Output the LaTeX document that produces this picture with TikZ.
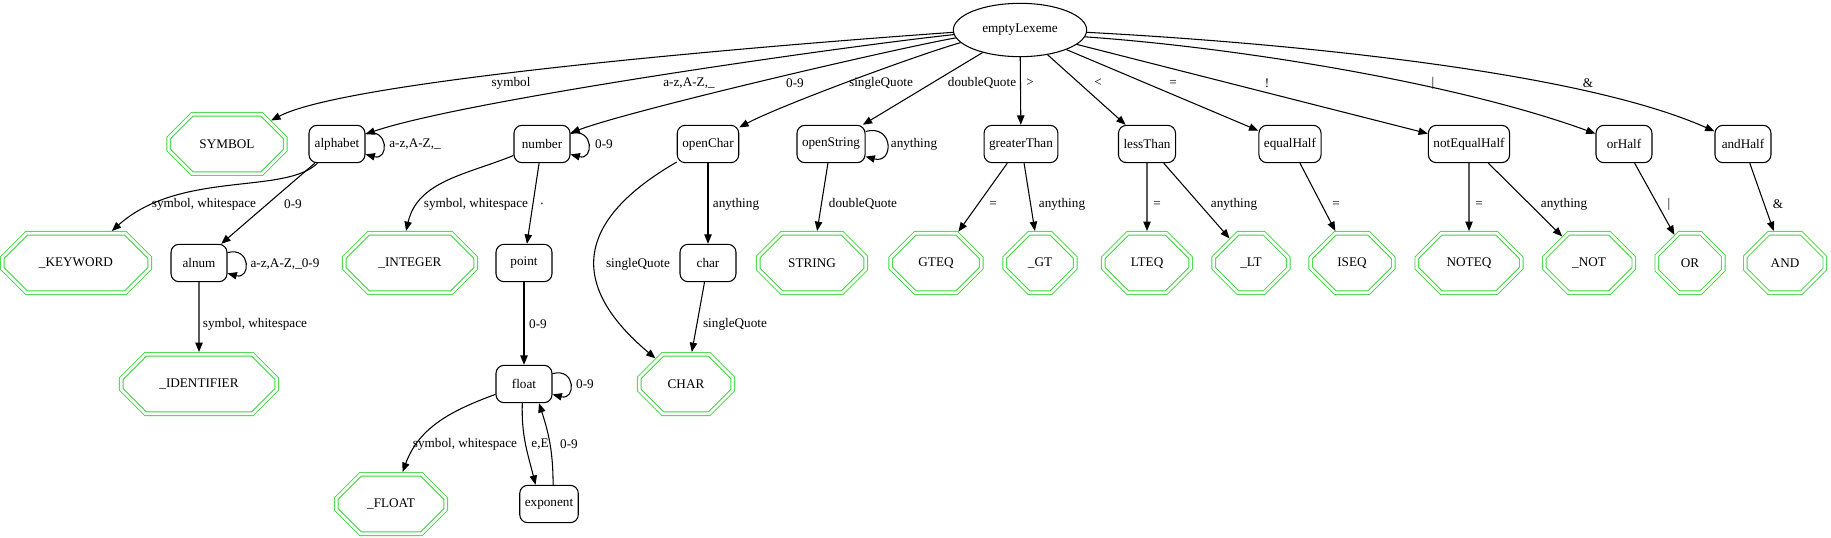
\documentclass[tikz,border=0pt]{standalone}
\usepackage{fontspec}
\setmainfont{Liberation Serif}
\usetikzlibrary{shapes.geometric, shapes.misc, arrows.meta}

\definecolor{finalgreen}{RGB}{60,215,60}

\begin{document}
\begin{tikzpicture}[
    x=0.75pt, y=0.75pt,
    every node/.style={font=\fontsize{9.9pt}{11.5pt}\selectfont},
    start/.style={draw, ellipse, line width=0.8pt, minimum width=100pt, minimum height=40pt},
    state/.style={draw, rounded corners=6pt, line width=0.8pt, minimum width=42pt, minimum height=28pt, inner xsep=3.8pt},
    final/.style={draw=finalgreen, double=white, double distance=2pt, line width=0.7pt, outer sep=1.7pt,
        chamfered rectangle, chamfered rectangle xsep=11pt, chamfered rectangle ysep=11pt,
        minimum height=44.6pt, minimum width={(#1-4.5)*0.75pt}},
    trans/.style={line width=0.8pt, -{Triangle[length=7pt, width=5.5pt]}},
    selfloop/.style={out=15, in=-15, looseness=3},
    lbl/.style={inner sep=1pt}
]
\useasboundingbox (0,0) rectangle (1831,-538);

% start state
\node[start] (root) at (1020,-30) {emptyLexeme};

% first row
\node[final=121] (SYMBOL) at (227,-144) {SYMBOL};
\node[state] (alphabet) at (337,-144) {alphabet};
\node[state] (number) at (542,-144) {number};
\node[state] (openChar) at (708,-144) {openChar};
\node[state] (openString) at (831,-144) {openString};
\node[state] (greaterThan) at (1021,-144) {greaterThan};
\node[state] (lessThan) at (1147,-144) {lessThan};
\node[state] (equalHalf) at (1290,-144) {equalHalf};
\node[state] (notEqualHalf) at (1469,-144) {notEqualHalf};
\node[state] (orHalf) at (1624,-144) {orHalf};
\node[state] (andHalf) at (1743,-144) {andHalf};

% second row
\node[final=152] (KEYWORD) at (76,-263) {\_KEYWORD};
\node[state] (alnum) at (199,-263) {alnum};
\node[final=136] (INTEGER) at (410,-263) {\_INTEGER};
\node[state] (point) at (524,-263) {point};
\node[state] (char) at (708,-263) {char};
\node[final=112] (STRING) at (812,-263) {STRING};
\node[final=95] (GTEQ) at (936,-263) {GTEQ};
\node[final=75] (GT) at (1040,-263) {\_GT};
\node[final=92] (LTEQ) at (1147,-263) {LTEQ};
\node[final=79] (LT) at (1251,-263) {\_LT};
\node[final=87] (ISEQ) at (1352,-263) {ISEQ};
\node[final=109] (NOTEQ) at (1469,-263) {NOTEQ};
\node[final=94] (NOT) at (1589,-263) {\_NOT};
\node[final=71] (OR) at (1690,-263) {OR};
\node[final=84] (AND) at (1785,-263) {AND};

% third and fourth row
\node[final=160] (IDENTIFIER) at (199,-384) {\_IDENTIFIER};
\node[state] (float) at (524,-384) {float};
\node[final=98] (CHAR) at (686,-384) {CHAR};
\node[final=114] (FLOAT) at (391,-504) {\_FLOAT};
\node[state] (exponent) at (549,-504) {exponent};

% transitions out of the start state
\draw[trans] (root.182) to[out=184, in=28, looseness=0.35] (SYMBOL) node[lbl] (l1) at (511,-83) {symbol};
\draw[trans] (root.184) to[out=186, in=19, looseness=0.45] (alphabet) node[lbl] (l2) at (689,-83) {a-z,A-Z,\_};
\draw[trans] (root.187) to[out=190, in=21, looseness=0.4] (number) node[lbl] (l3) at (795,-83) {0-9};
\draw[trans] (root.192) to[out=196, in=28, looseness=0.5] (openChar) node[lbl] (l4) at (881,-83) {singleQuote};
\draw[trans] (root) -- (openString) node[lbl] (l5) at (982,-83) {doubleQuote};
\draw[trans] (root) -- (greaterThan) node[lbl] (l6) at (1030,-83) {>};
\draw[trans] (root) -- (lessThan) node[lbl] (l7) at (1098,-83) {<};
\draw[trans] (root) -- (equalHalf) node[lbl] (l8) at (1173,-83) {=};
\draw[trans] (root) -- (notEqualHalf) node[lbl] (l9) at (1267,-83) {!};
\draw[trans] (root.-6) to[out=-4, in=160, looseness=0.74] (orHalf) node[lbl] (l10) at (1433,-83) {|};
\draw[trans] (root.-2) to[out=-3, in=156, looseness=0.64] (andHalf) node[lbl] (l11) at (1588,-83) {\&};

% identifiers and keywords
\draw[trans] (alphabet.20) to[selfloop] (alphabet.-20) node[lbl] (l12) at (415,-144) {a-z,A-Z,\_};
\draw[trans] (alphabet) .. controls (285,-195) and (180,-170) .. (KEYWORD) node[lbl] (l13) at (204,-204) {symbol, whitespace};
\draw[trans] (alphabet) -- (alnum) node[lbl] (l14) at (293,-204) {0-9};
\draw[trans] (alnum.20) to[selfloop] (alnum.-20) node[lbl] (l15) at (285,-264) {a-z,A-Z,\_0-9};
\draw[trans] (alnum) -- (IDENTIFIER) node[lbl] (l16) at (255,-324) {symbol, whitespace};

% numbers
\draw[trans] (number.20) to[selfloop] (number.-20) node[lbl] (l17) at (604,-144) {0-9};
\draw[trans] (number) to[out=-158, in=77, looseness=1] (INTEGER.97) node[lbl] (l18) at (476,-204) {symbol, whitespace};
\draw[trans] (number) -- (point) node[lbl] (l19) at (542,-204) {.};
\draw[trans] (point) -- (float) node[lbl] (l20) at (538,-324) {0-9};
\draw[trans] (float.20) to[selfloop] (float.-20) node[lbl] (l21) at (585,-384) {0-9};
\draw[trans] (float) to[out=-160, in=70] (FLOAT) node[lbl] (l22) at (465,-444) {symbol, whitespace};
\draw[trans] (float.-95) to[out=-92, in=104] (exponent.125) node[lbl] (l23) at (540,-444) {e,E};
\draw[trans] (exponent.78) to[out=90, in=-72] (float.-52) node[lbl] (l24) at (569,-444) {0-9};

% chars and strings
\draw[trans] (openChar) -- (char) node[lbl] (l25) at (736,-204) {anything};
\draw[trans] (openChar) to[out=-150, in=140, looseness=1.5] (CHAR) node[lbl] (l26) at (638,-264) {singleQuote};
\draw[trans] (char) -- (CHAR) node[lbl] (l27) at (735,-324) {singleQuote};
\draw[trans] (openString.20) to[selfloop] (openString.-20) node[lbl] (l28) at (914,-144) {anything};
\draw[trans] (openString) -- (STRING) node[lbl] (l29) at (863,-204) {doubleQuote};

% operators
\draw[trans] (greaterThan) -- (GTEQ) node[lbl] (l30) at (993,-204) {=};
\draw[trans] (greaterThan) -- (GT) node[lbl] (l31) at (1062,-204) {anything};
\draw[trans] (lessThan) -- (LTEQ) node[lbl] (l32) at (1157,-204) {=};
\draw[trans] (lessThan) -- (LT) node[lbl] (l33) at (1234,-204) {anything};
\draw[trans] (equalHalf) -- (ISEQ) node[lbl] (l34) at (1336,-204) {=};
\draw[trans] (notEqualHalf) -- (NOTEQ) node[lbl] (l35) at (1479,-204) {=};
\draw[trans] (notEqualHalf) -- (NOT) node[lbl] (l36) at (1564,-204) {anything};
\draw[trans] (orHalf) -- (OR) node[lbl] (l37) at (1669,-204) {|};
\draw[trans] (andHalf) -- (AND) node[lbl] (l38) at (1778,-204) {\&};

\end{tikzpicture}
\end{document}
